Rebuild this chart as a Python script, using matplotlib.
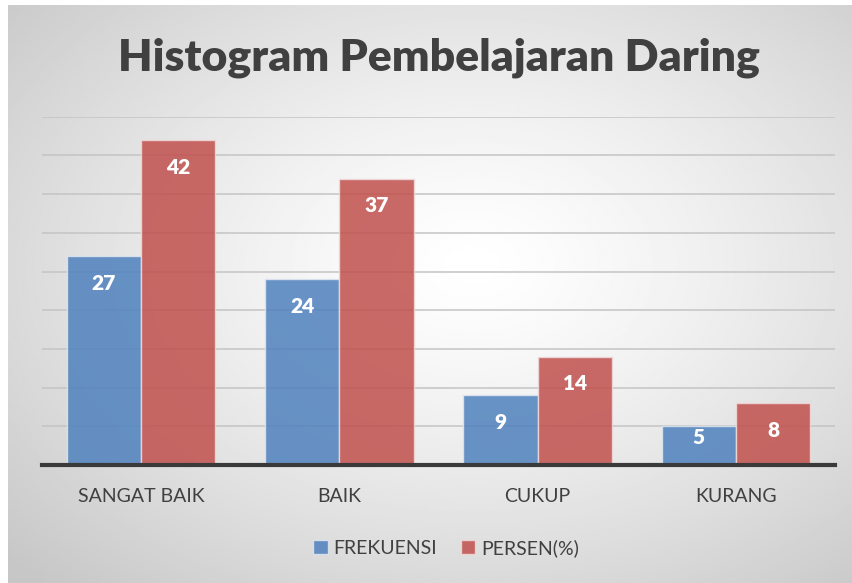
import numpy as np
import matplotlib
matplotlib.use("Agg")
from matplotlib import pyplot as plt
from matplotlib.patches import Patch

kategori = ["SANGAT BAIK", "BAIK", "CUKUP", "KURANG"]
frekuensi = [27, 24, 9, 5]
persen = [42, 37, 14, 8]

plt.rcParams['font.family'] = ['Lato', 'DejaVu Sans']

fig = plt.figure(figsize=(8.53, 5.83), dpi=100)
fig.patch.set_facecolor("white")

# radial gradient background panel
bg = fig.add_axes([8 / 853, 0, 1 - 8 / 853, 1 - 5 / 583])
yy, xx = np.mgrid[0:1:300j, 0:1:400j]
r = np.sqrt(((xx - 0.55) / 0.75) ** 2 + ((yy - 0.45) / 0.75) ** 2)
val = 1 - 0.22 * np.clip(r, 0, 1) ** 1.3
bg.imshow(val, cmap="gray", vmin=0, vmax=1, aspect="auto", extent=[0, 1, 0, 1])
bg.set_axis_off()

ax = fig.add_axes([42 / 853, 1 - 465 / 583, (835 - 42) / 853, (465 - 116.7) / 583])
ax.set_facecolor("none")

x = np.arange(len(kategori))
w = 0.374
b1 = ax.bar(x - w / 2, frekuensi, w, color="#4f81bd", alpha=0.85, edgecolor="#dfe6f0", linewidth=1, zorder=3)
b2 = ax.bar(x + w / 2, persen, w, color="#c0504d", alpha=0.85, edgecolor="#f0dada", linewidth=1, zorder=3)

for bars, vals in [(b1, frekuensi), (b2, persen)]:
    for rect, v in zip(bars, vals):
        # label near the top, but kept inside short bars
        ypos = v - 3.5 if v - 3.5 > v / 2 else v * 0.72
        ax.text(rect.get_x() + rect.get_width() / 2, ypos, str(v), ha="center", va="center",
                color="white", fontsize=15, fontweight="heavy", zorder=4)

ax.set_xlim(-0.5, 3.5)
ax.set_ylim(0, 45)
ax.set_yticks(np.arange(5, 50, 5))
ax.yaxis.grid(True, color="#c4c4c4", linewidth=1.1, zorder=0)
ax.tick_params(axis="y", left=False, labelleft=False)
ax.tick_params(axis="x", bottom=False, labelsize=14, labelcolor="#404040", pad=13)
ax.set_xticks(x)
ax.set_xticklabels(kategori)
for s in ["top", "right", "left"]:
    ax.spines[s].set_visible(False)
ax.spines["bottom"].set_color("#3a3a3a")
ax.spines["bottom"].set_linewidth(3)
ax.spines["bottom"].set_zorder(5)

fig.text(0.515, 1 - 58 / 583, "Histogram Pembelajaran Daring", ha="center", va="center",
         fontsize=32, fontweight="heavy", color="#404040")

handles = [Patch(facecolor="#4f81bd", alpha=0.85, edgecolor="#dfe6f0"),
           Patch(facecolor="#c0504d", alpha=0.85, edgecolor="#f0dada")]
fig.legend(handles, ["FREKUENSI", "PERSEN(%)"], loc="center", bbox_to_anchor=(446 / 853, 1 - 548 / 583),
           ncol=2, frameon=False, fontsize=14, handlelength=0.75, handleheight=0.75,
           handletextpad=0.3, columnspacing=1.2, labelcolor="#404040")

fig.savefig("out.png", dpi=100)
